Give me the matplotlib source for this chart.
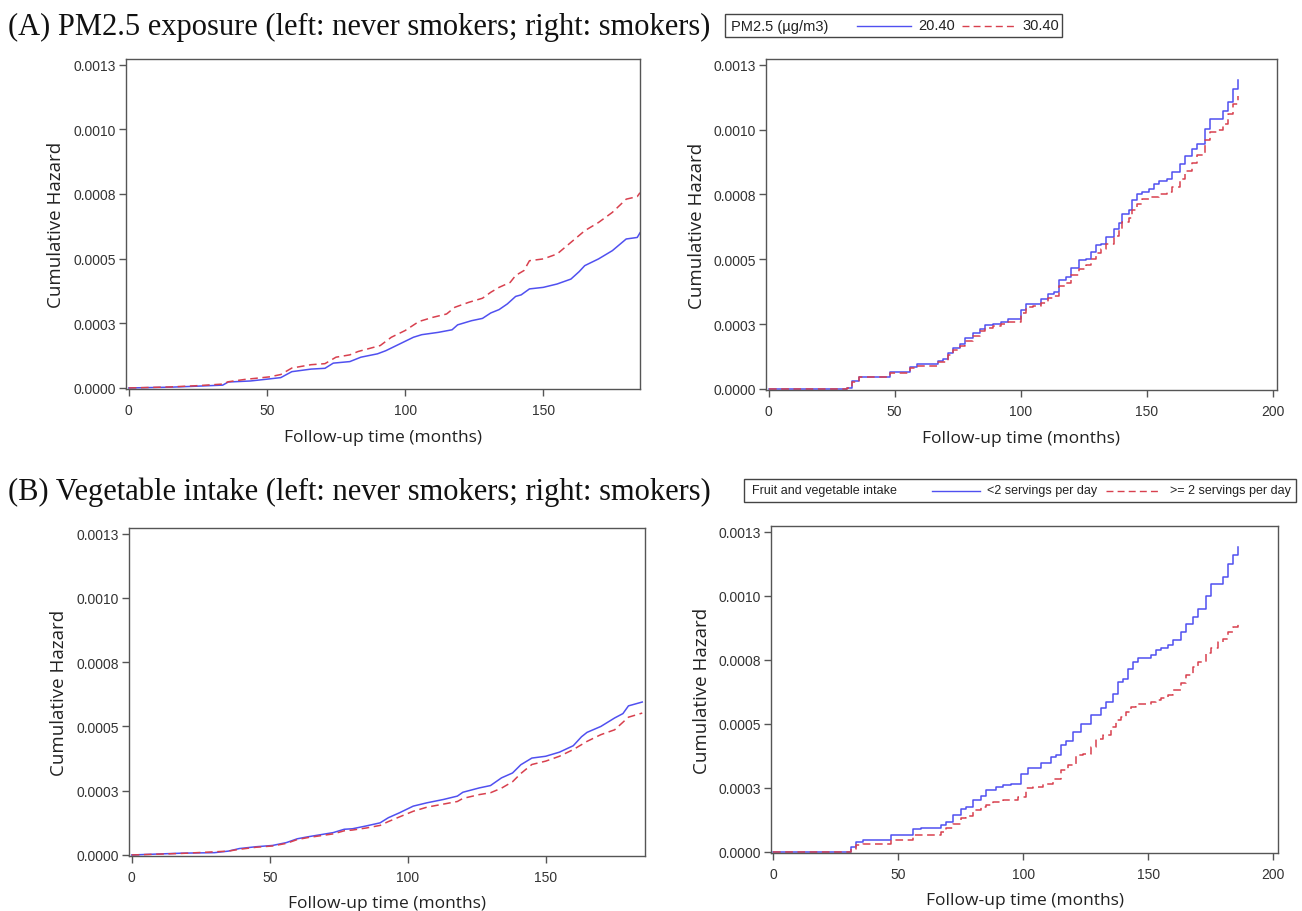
import matplotlib
matplotlib.use("Agg")
import matplotlib.pyplot as plt
from matplotlib.lines import Line2D
from matplotlib.patches import Rectangle

# ---- data (months, cumulative hazard) ----
# (A) PM2.5, never smokers
pm_never_low_t = [0, 15, 25, 34, 36, 44, 50, 55, 59, 66, 71, 74, 80, 84, 90, 93, 98, 103, 106, 112,
                  117, 119, 124, 128, 131, 134, 137, 140, 142, 145, 150, 155, 160, 163, 165, 170, 175, 180, 184, 185]
pm_never_low = [0, 0.000003, 0.000007, 0.000011, 0.000023, 0.000027, 0.000034, 0.00004, 0.000063, 0.000073,
                0.000076, 0.000096, 0.000102, 0.000119, 0.000132, 0.000144, 0.00017, 0.000196, 0.000206, 0.000215,
                0.000225, 0.000244, 0.00026, 0.000269, 0.00029, 0.000303, 0.000325, 0.000354, 0.00036, 0.000383,
                0.000389, 0.000402, 0.000421, 0.00045, 0.000473, 0.000499, 0.000531, 0.000576, 0.000582, 0.0006]
pm_never_high_t = [0, 15, 25, 34, 36, 42, 51, 55, 59, 66, 71, 75, 80, 83, 91, 95, 100, 105, 110, 115,
                   118, 123, 128, 131, 134, 138, 140, 143, 145, 150, 155, 160, 165, 170, 175, 180, 184, 185]
pm_never_high = [0, 0.000004, 0.000009, 0.000015, 0.000024, 0.000033, 0.000043, 0.000052, 0.000077, 0.00009,
                 0.000094, 0.000119, 0.000128, 0.000141, 0.000164, 0.000196, 0.000222, 0.000257, 0.000273, 0.000286,
                 0.000312, 0.000331, 0.000347, 0.00037, 0.000389, 0.000408, 0.000435, 0.000454, 0.000492, 0.000499,
                 0.000518, 0.000563, 0.000608, 0.00064, 0.000679, 0.00073, 0.00074, 0.000755]

# (A) PM2.5, smokers
pm_smk_low_t = [0, 31, 33, 36, 48, 56, 59, 67, 69, 71, 73, 76, 78, 81, 84, 86, 89, 92, 95, 100,
                102, 108, 111, 113, 115, 118, 120, 123, 126, 128, 130, 132, 134, 137, 139, 140, 143, 144, 146, 148,
                151, 153, 155, 158, 160, 163, 165, 168, 170, 173, 175, 180, 182, 184, 186]
pm_smk_low = [0, 0.000005, 0.00003, 0.000047, 0.000066, 0.000085, 0.000096, 0.000109, 0.000114, 0.000137,
              0.000157, 0.000174, 0.000195, 0.000214, 0.000233, 0.000246, 0.000252, 0.000259, 0.000269, 0.000304,
              0.000329, 0.000346, 0.000368, 0.000374, 0.000419, 0.000432, 0.000466, 0.000496, 0.000502, 0.000528,
              0.000554, 0.00056, 0.000586, 0.000618, 0.000641, 0.000676, 0.000689, 0.000727, 0.000753, 0.000759,
              0.000772, 0.00079, 0.0008, 0.000809, 0.000835, 0.000867, 0.000899, 0.000925, 0.000944, 0.001002,
              0.001041, 0.001073, 0.001105, 0.001156, 0.00119]
pm_smk_high_t = [0, 31, 33, 36, 48, 56, 59, 67, 71, 73, 76, 78, 81, 84, 86, 89, 92, 95, 97, 100,
                 102, 105, 108, 111, 113, 115, 118, 120, 123, 126, 128, 130, 132, 134, 137, 139, 140, 143, 144, 146,
                 148, 151, 155, 158, 160, 163, 165, 168, 170, 173, 175, 178, 180, 182, 184, 186]
pm_smk_high = [0, 0.000005, 0.000028, 0.000045, 0.00006, 0.00008, 0.00009, 0.000104, 0.00013, 0.00015,
               0.000167, 0.000185, 0.000205, 0.000225, 0.000235, 0.000243, 0.00025, 0.000257, 0.00026, 0.000293,
               0.000315, 0.000318, 0.000333, 0.000352, 0.00036, 0.000395, 0.00041, 0.000438, 0.000462, 0.000478,
               0.0005, 0.000525, 0.00054, 0.00056, 0.00059, 0.000615, 0.000645, 0.00066, 0.00069, 0.000713,
               0.000733, 0.00074, 0.00075, 0.00076, 0.00078, 0.00081, 0.00084, 0.00087, 0.0009, 0.00096,
               0.00099, 0.001, 0.00102, 0.00106, 0.0011, 0.00113]

# (B) fruit and vegetable intake, never smokers
veg_never_low_t = [0, 18, 30, 35, 39, 45, 51, 56, 60, 64, 73, 77, 80, 85, 90, 93, 97, 102, 107, 113,
                   118, 120, 126, 130, 134, 138, 141, 145, 150, 155, 160, 163, 165, 170, 175, 178, 180, 185]
veg_never_low = [0, 0.000007, 0.000009, 0.000015, 0.000025, 0.000032, 0.000037, 0.000048, 0.000063, 0.000071,
                 0.000087, 0.0001, 0.000102, 0.000113, 0.000125, 0.000145, 0.000164, 0.00019, 0.000203, 0.000216,
                 0.000229, 0.000244, 0.000261, 0.00027, 0.0003, 0.000319, 0.000351, 0.000377, 0.000384, 0.0004,
                 0.000425, 0.00046, 0.000477, 0.0005, 0.000533, 0.00055, 0.00058, 0.000595]
veg_never_high_t = [0, 18, 35, 39, 45, 51, 56, 60, 64, 73, 77, 80, 85, 90, 93, 97, 102, 107, 113, 118,
                    120, 126, 130, 134, 138, 141, 145, 150, 155, 160, 165, 170, 175, 180, 185]
veg_never_high = [0, 0.000006, 0.000015, 0.000022, 0.00003, 0.000035, 0.000045, 0.00006, 0.000068, 0.000082,
                  0.000094, 0.000097, 0.000105, 0.000115, 0.00013, 0.000148, 0.00017, 0.000186, 0.000198, 0.000208,
                  0.00022, 0.000235, 0.000242, 0.00026, 0.000285, 0.000317, 0.000352, 0.000365, 0.000384, 0.00041,
                  0.000442, 0.000468, 0.000487, 0.000536, 0.000552]

# (B) fruit and vegetable intake, smokers
veg_smk_low_t = [0, 31, 33, 36, 47, 56, 59, 67, 69, 72, 75, 77, 80, 83, 85, 89, 92, 95, 99, 102,
                 107, 111, 113, 115, 117, 120, 123, 127, 131, 133, 136, 138, 140, 142, 144, 146, 151, 153, 155, 158,
                 160, 163, 165, 168, 170, 173, 175, 180, 182, 184, 186]
veg_smk_low = [0, 0.000019, 0.000037, 0.000046, 0.000065, 0.000089, 0.000094, 0.000107, 0.000118, 0.000144,
               0.000167, 0.000176, 0.000202, 0.000219, 0.000241, 0.000254, 0.000263, 0.000267, 0.000306, 0.000328,
               0.000349, 0.000371, 0.000377, 0.000419, 0.000432, 0.000468, 0.000501, 0.000533, 0.00056, 0.000585,
               0.000618, 0.000663, 0.000676, 0.000715, 0.000741, 0.000757, 0.00077, 0.000788, 0.000794, 0.000807,
               0.000826, 0.000859, 0.000891, 0.000917, 0.00095, 0.001, 0.001047, 0.001073, 0.001124, 0.001159,
               0.001189]
veg_smk_high_t = [0, 31, 33, 36, 47, 56, 67, 69, 72, 75, 77, 80, 83, 85, 88, 92, 98, 101, 104, 108,
                  112, 115, 118, 121, 124, 127, 129, 132, 135, 137, 139, 141, 143, 145, 151, 153, 155, 158, 160, 163,
                  165, 168, 170, 173, 175, 178, 180, 182, 184, 186]
veg_smk_high = [0, 0.000013, 0.000029, 0.000033, 0.000046, 0.000068, 0.000079, 0.000092, 0.000111, 0.000131,
                0.000141, 0.000163, 0.000176, 0.000183, 0.000196, 0.000202, 0.000215, 0.000248, 0.000254, 0.000267,
                0.000286, 0.000319, 0.000338, 0.000377, 0.000384, 0.00041, 0.000442, 0.000455, 0.000488, 0.000514,
                0.000527, 0.000546, 0.000566, 0.000579, 0.000585, 0.000593, 0.000602, 0.000613, 0.000632, 0.000658,
                0.00069, 0.000723, 0.000742, 0.000775, 0.000794, 0.00082, 0.000833, 0.000859, 0.000878, 0.000898]

y_ticks = [0, 0.00025, 0.0005, 0.00075, 0.001, 0.00125]
y_tick_labels = ["0.0000", "0.0003", "0.0005", "0.0008", "0.0010", "0.0013"]

title_a = "(A) PM2.5 exposure (left: never smokers; right: smokers)"
title_b = "(B) Vegetable intake (left: never smokers; right: smokers)"
legend_a = ["PM2.5 (\u00b5g/m3)", "20.40", "30.40"]
legend_b = ["Fruit and vegetable intake", "<2 servings per day", ">= 2 servings per day"]

BLUE = "#5050f0"
RED = "#d8404e"
FRAME = "#555555"
SANS = "Liberation Sans"
W, H = 1302, 912

fig = plt.figure(figsize=(W / 100, H / 100), dpi=100)


def px_axes(l, t, r, b):
    return fig.add_axes([l / W, 1 - b / H, (r - l) / W, (b - t) / H])


def style_axes(ax, xmax, xticks):
    ax.set_xlim(-1, xmax)
    ax.set_ylim(-0.000004, 0.001272)
    ax.set_xticks(xticks)
    ax.set_xticklabels([str(v) for v in xticks])
    ax.set_yticks(y_ticks)
    ax.set_yticklabels(y_tick_labels)
    for s in ax.spines.values():
        s.set_color(FRAME)
        s.set_linewidth(1.0)
    ax.tick_params(direction="out", length=5, width=1.0, color=FRAME, labelsize=10,
                   labelcolor="#333333")
    ax.tick_params(axis="x", pad=5)
    ax.tick_params(axis="y", pad=2)
    for lab in ax.get_xticklabels() + ax.get_yticklabels():
        lab.set_family(SANS)
    ax.set_ylabel("Cumulative Hazard", fontsize=13.5, family="Open Sans", color="#222222")
    ax.set_xlabel("Follow-up time (months)", fontsize=12.5, family="Open Sans", color="#222222")
    ax.yaxis.set_label_coords(-0.118, 0.5)
    ax.xaxis.set_label_coords(0.5, -0.12)


def draw(ax, t_low, low, t_high, high, style):
    ax.plot(t_low, low, drawstyle=style, color=BLUE, lw=1.1)
    ax.plot(t_high, high, drawstyle=style, color=RED, lw=1.1, linestyle=(0, (5, 3)))


ax1 = px_axes(126, 60, 640, 390)
draw(ax1, pm_never_low_t, pm_never_low, pm_never_high_t, pm_never_high, "default")
style_axes(ax1, 185, [0, 50, 100, 150])

ax2 = px_axes(766, 60, 1277, 391)
draw(ax2, pm_smk_low_t, pm_smk_low, pm_smk_high_t, pm_smk_high, "steps-post")
style_axes(ax2, 201.6, [0, 50, 100, 150, 200])

ax3 = px_axes(129, 529, 645, 857)
draw(ax3, veg_never_low_t, veg_never_low, veg_never_high_t, veg_never_high, "default")
style_axes(ax3, 186, [0, 50, 100, 150])

ax4 = px_axes(771, 527, 1278, 854)
draw(ax4, veg_smk_low_t, veg_smk_low, veg_smk_high_t, veg_smk_high, "steps-post")
style_axes(ax4, 202, [0, 50, 100, 150, 200])


def ftext(x, y, s, **kw):
    fig.text(x / W, 1 - y / H, s, va="center", ha="left", **kw)


def fline(x0, x1, y, **kw):
    fig.add_artist(Line2D([x0 / W, x1 / W], [1 - y / H, 1 - y / H], transform=fig.transFigure, **kw))


def legend_box(x0, x1, yc, labels, pos, size):
    fig.add_artist(Rectangle((x0 / W, 1 - (yc + 11.5) / H), (x1 - x0) / W, 23 / H,
                             transform=fig.transFigure, fill=False, edgecolor="#444444", lw=1.0))
    kw = dict(fontsize=size, family=SANS, color="#222222")
    ftext(pos[0], yc, labels[0], **kw)
    fline(pos[1], pos[2], yc, color=BLUE, lw=1.0)
    ftext(pos[3], yc, labels[1], **kw)
    fline(pos[4], pos[5], yc, color=RED, lw=1.0, linestyle=(0, (5, 3)))
    ftext(pos[6], yc, labels[2], **kw)


ftext(8, 27, title_a, fontsize=22, family="Liberation Serif", color="#111111")
ftext(8, 492, title_b, fontsize=22, family="Liberation Serif", color="#111111")

legend_box(725, 1062, 26.5, legend_a, [731, 857, 911, 918, 962, 1015, 1022], 10.5)
legend_box(744, 1296, 491.5, legend_b, [752, 932, 980, 987, 1106, 1160, 1170], 9.0)

fig.savefig("out.png", dpi=100)
